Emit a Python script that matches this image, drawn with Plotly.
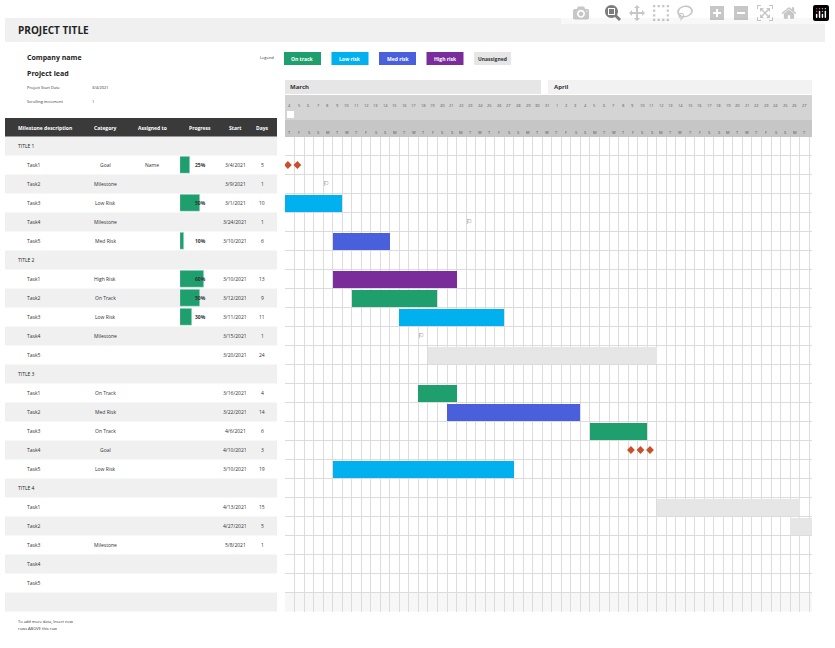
import datetime as dt
import plotly.graph_objects as go

W, H = 835, 648

# table data
rows = ["TITLE 1", "Task1", "Task2", "Task3", "Task4", "Task5",
        "TITLE 2", "Task1", "Task2", "Task3", "Task4", "Task5",
        "TITLE 3", "Task1", "Task2", "Task3", "Task4", "Task5",
        "TITLE 4", "Task1", "Task2", "Task3", "Task4", "Task5"]
category = ["", "Goal", "Milestone", "Low Risk", "Milestone", "Med Risk",
            "", "High Risk", "On Track", "Low Risk", "Milestone", "",
            "", "On Track", "Med Risk", "On Track", "Goal", "Low Risk",
            "", "", "", "Milestone", "", ""]
assigned = ["", "Name"] + [""] * 22
progress = [None, 0.25, None, 0.50, None, 0.10,
            None, 0.60, 0.50, 0.30, None, None] + [None] * 12
start = ["", "3/4/2021", "3/9/2021", "3/1/2021", "3/24/2021", "3/10/2021",
         "", "3/10/2021", "3/12/2021", "3/11/2021", "3/15/2021", "3/20/2021",
         "", "3/16/2021", "3/22/2021", "4/6/2021", "4/10/2021", "3/10/2021",
         "", "4/13/2021", "4/27/2021", "5/8/2021", "", ""]
days = ["", "5", "1", "10", "1", "6",
        "", "13", "9", "11", "1", "24",
        "", "4", "14", "6", "3", "19",
        "", "15", "5", "1", "", ""]

# gantt bars (day offset from project start)
bar_row = [3, 5, 7, 8, 9, 11, 13, 14, 15, 17, 19, 20]
bar_start = [0, 5, 5, 7, 12, 15, 14, 17, 32, 5, 39, 53]
bar_len = [6, 6, 13, 9, 11, 24, 4, 14, 6, 19, 15, 3]
bar_cat = ["Low Risk", "Med Risk", "High Risk", "On Track", "Low Risk", "Unassigned",
           "On Track", "Med Risk", "On Track", "Low Risk", "Unassigned", "Unassigned"]
goal_row = [1, 1, 16, 16, 16]
goal_day = [0.3, 1.3, 36.3, 37.3, 38.3]
mile_row = [2, 4, 10]
mile_day = [4.3, 19.3, 14.3]

legend_names = ["On track", "Low risk", "Med risk", "High risk", "Unassigned"]
colors = {"On Track": "#1f9e6e", "Low Risk": "#00b0ef", "Med Risk": "#4a5fdc",
          "High Risk": "#7a2c9a", "Unassigned": "#e6e6e6"}
legend_colors = ["#1f9e6e", "#00b0ef", "#4a5fdc", "#7a2c9a", "#e6e6e6"]

project_start = dt.date(2021, 3, 4)
n_days = 56
day_list = [project_start + dt.timedelta(days=i) for i in range(n_days)]


def px(x):
    return x / W


def py(y):
    return 1 - y / H


n_rows = len(rows)
g_x0, g_x1 = 285, 812
row_h = 19
top = 136.5

fig = go.Figure()

fig.add_trace(go.Bar(
    y=bar_row, x=bar_len, base=bar_start, orientation="h", width=0.9,
    marker=dict(color=[colors[c] for c in bar_cat], line=dict(width=0)),
    hoverinfo="skip", showlegend=False))
fig.add_trace(go.Scatter(
    x=goal_day, y=goal_row, mode="markers",
    marker=dict(symbol="diamond", size=6, color="#c9502a"), showlegend=False))
fig.add_trace(go.Scatter(
    x=mile_day, y=mile_row, mode="text", text=["⚐"] * len(mile_row),
    textfont=dict(size=7, color="#444"), showlegend=False))

# progress bars
prog_rows = [i for i, p in enumerate(progress) if p is not None]
fig.add_trace(go.Bar(
    y=prog_rows, x=[progress[i] for i in prog_rows], orientation="h", width=0.9,
    marker=dict(color="#1f9e6e"), xaxis="x2", yaxis="y2", showlegend=False))

y_lo = top + row_h * (n_rows + 1)
ydom = [py(y_lo), py(top)]
fig.update_layout(
    width=W, height=H, margin=dict(l=0, r=0, t=0, b=0),
    plot_bgcolor="rgba(0,0,0,0)", paper_bgcolor="white", bargap=0,
    font=dict(family="Open Sans", size=5, color="#333"),
    xaxis=dict(domain=[px(g_x0), px(g_x1)], range=[0, 55.3], dtick=1, tick0=0,
               showticklabels=False, showgrid=True, gridcolor="#dcdcdc", gridwidth=0.5,
               zeroline=False, anchor="y"),
    xaxis2=dict(domain=[px(180), px(220)], range=[0, 1], showticklabels=False,
                showgrid=False, zeroline=False, anchor="y2"),
    yaxis=dict(domain=ydom, range=[n_rows + 0.5, -0.5],
               tick0=0.5, dtick=1, showticklabels=False, showgrid=True,
               gridcolor="#dcdcdc", gridwidth=0.5, zeroline=False, anchor="x"),
    yaxis2=dict(domain=ydom, range=[n_rows + 0.5, -0.5], showticklabels=False,
                showgrid=False, zeroline=False, anchor="x2"),
)

shapes = []
ann = []


def rect(x0, y0, x1, y1, color):
    shapes.append(dict(type="rect", xref="paper", yref="paper", x0=px(x0), x1=px(x1),
                       y0=py(y1), y1=py(y0), fillcolor=color, line=dict(width=0),
                       layer="below"))


def text(x, y, s, size=5, color="#333", bold=False, anchor="left"):
    ann.append(dict(xref="paper", yref="paper", x=px(x), y=py(y), text=f"<b>{s}</b>" if bold else s,
                    showarrow=False, xanchor=anchor, yanchor="middle",
                    font=dict(size=size, color=color)))


# title band
rect(5, 18, 825, 42, "#f0f0f0")
text(16, 30, "PROJECT TITLE", size=10, color="#222", bold=True)
text(25, 58, "Company name", size=7, color="#222", bold=True)
text(25, 74, "Project lead", size=7, color="#222", bold=True)
text(25, 88, "Project Start Date", size=4)
text(90, 88, "3/4/2021", size=4)
text(25, 101, "Scrolling increment", size=4)
text(90, 101, "1", size=4)

# legend
text(258, 58, "Legend", size=4)
for i, (name, c) in enumerate(zip(legend_names, legend_colors)):
    x0 = 284 + i * 47.5
    rect(x0, 52, x0 + 37, 65, c)
    text(x0 + 18.5, 58.5, f"<b>{name}</b>", size=5,
         color="#333" if name == "Unassigned" else "white", anchor="center")

# table header
rect(5, 118, 277, 137, "#3a3a3a")
headers = [("Milestone description", 16, "left"), ("Category", 105, "center"),
           ("Assigned to", 152, "center"), ("Progress", 200, "center"),
           ("Start", 235, "center"), ("Days", 262, "center")]
for s, x, a in headers:
    text(x, 127.5, f"<b>{s}</b>", size=5, color="white", anchor=a)

# table rows
for i, r in enumerate(rows):
    yc = top + row_h * i + row_h / 2
    if i % 2 == 0:
        rect(5, yc - row_h / 2, 277, yc + row_h / 2, "#f0f0f0")
    if r.startswith("TITLE"):
        text(16, yc, r, size=5, color="#222")
        continue
    text(25, yc, r)
    text(105, yc, category[i], anchor="center")
    text(152, yc, assigned[i], anchor="center")
    if progress[i] is not None:
        text(200, yc, f"<b>{int(progress[i] * 100)}%</b>", anchor="center")
    text(235, yc, start[i], anchor="center")
    text(262, yc, days[i], anchor="center")
yb = top + row_h * n_rows
rect(5, yb, 277, yb + row_h, "#f0f0f0")
rect(285, yb, 812, yb + row_h, "#f7f7f7")
text(16, 621, "To add more data, Insert new", size=4)
text(16, 628, "rows ABOVE this row", size=4)

# timeline header
rect(285, 80, 541, 94, "#e6e6e6")
rect(548, 80, 812, 94, "#f2f2f2")
text(288, 87, "<b>March</b>", size=6, color="#333")
text(552, 87, "<b>April</b>", size=6, color="#333")
rect(285, 95, 812, 120, "#d4d4d4")
rect(285, 120, 812, 137, "#c6c6c6")
rect(287, 111, 294, 118, "#ffffff")
letters = "MTWTFSS"
for i, d in enumerate(day_list[:55]):
    ann.append(dict(xref="x", yref="paper", x=i + 0.5, y=py(101), text=str(d.day),
                    showarrow=False, font=dict(size=4, color="#555")))
    ann.append(dict(xref="x", yref="paper", x=i + 0.5, y=py(128), text=letters[d.weekday()],
                    showarrow=False, font=dict(size=4, color="#555")))

fig.update_layout(shapes=shapes, annotations=ann)
fig.write_html("out.html", post_script="document.body.style.margin='0';")
